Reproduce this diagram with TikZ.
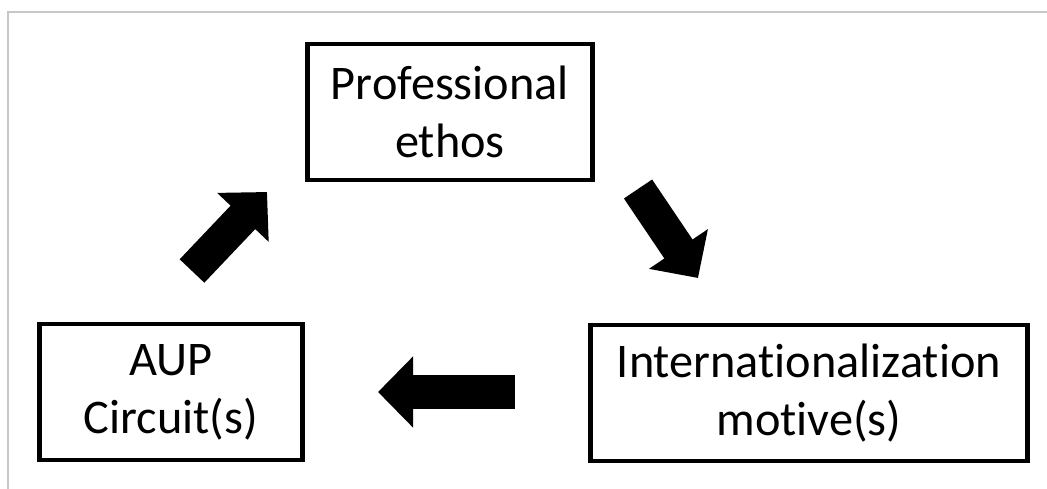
\documentclass[tikz,border=0pt]{standalone}
\usepackage{fontspec}
\setmainfont[Ligatures=NoCommon]{Carlito}
\usepackage{tikz}
\usetikzlibrary{arrows.meta}

\tikzset{
  box/.style={draw, line width=2.8pt, inner sep=0pt, align=center,
    font=\fontsize{27.5}{33}\selectfont},
  bigarrow/.style={draw, line width=0.68cm,
    -{Triangle[length=0.7cm,width=1.38cm]}}
}

\begin{document}
\begin{tikzpicture}[x=0.02cm,y=-0.02cm]
   \useasboundingbox (0,0) rectangle (1047,489);
   \draw[black!22, line width=0.6pt] (8,489) -- (8,12) -- (1047,12);

   \draw (450,112) node[box, minimum width=5.7cm, minimum height=2.72cm] (ethos) {Professional\\ethos};
   \draw (809,393) node[box, minimum width=8.74cm, minimum height=2.72cm] (motive) {Internationalization\\motive(s)};
   \draw (171,392) node[box, minimum width=5.26cm, minimum height=2.72cm] (aup) {AUP\\Circuit(s)};

   \coordinate (ea) at (638,189);  \coordinate (eb) at (698,278);
   \coordinate (ma) at (515,392);  \coordinate (mb) at (378,392);
   \coordinate (aa) at (192,271);  \coordinate (ab) at (267,192);

   \draw[bigarrow] (ea) -- (eb);
   \draw[bigarrow] (ma) -- (mb);
   \draw[bigarrow] (aa) -- (ab);

\end{tikzpicture}
\end{document}
